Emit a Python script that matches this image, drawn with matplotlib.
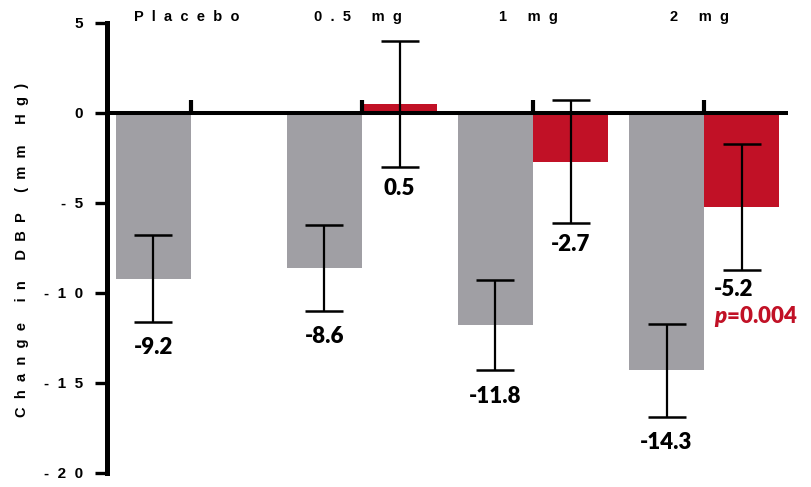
import matplotlib
matplotlib.use("Agg")
import matplotlib.pyplot as plt
import numpy as np

# Data: change in diastolic blood pressure (mm Hg) by dose
groups = ["Placebo", "0.5 mg", "1 mg", "2 mg"]
gray_vals = [-9.2, -8.6, -11.8, -14.3]
gray_err = [2.4, 2.4, 2.5, 2.6]
red_vals = [0.5, -2.7, -5.2]          # no red bar for placebo
red_err = [3.5, 3.4, 3.5]
p_label = "0.004"
y_ticks = [5, 0, -5, -10, -15, -20]

GRAY = "#A09FA4"
RED = "#C11126"

plt.rcParams["mathtext.fontset"] = "custom"
plt.rcParams["mathtext.rm"] = "Lato:weight=heavy"
plt.rcParams["mathtext.it"] = "Lato:style=italic:weight=heavy"
plt.rcParams["mathtext.bf"] = "Lato:weight=heavy"


def spaced(s, gap="  "):
    return gap.join(s)


fig = plt.figure(figsize=(8.12, 4.87), dpi=100)
ax = fig.add_axes([107.5 / 812, 14 / 487, (788 - 107.5) / 812, 450 / 487])

x = np.arange(len(groups))
w = 0.44
xr = x[1:]

ax.bar(x, gray_vals, width=-w, align="edge", color=GRAY, zorder=2)
ax.bar(xr, red_vals, width=w, align="edge", color=RED, zorder=2)

cap = 13.7
ax.errorbar(x - w / 2, gray_vals, yerr=gray_err, fmt="none", ecolor="black",
            elinewidth=1.6, capsize=cap, capthick=1.8, zorder=4)
ax.errorbar(xr + w / 2, red_vals, yerr=red_err, fmt="none", ecolor="black",
            elinewidth=1.6, capsize=cap, capthick=1.8, zorder=4)

# zero line and small upward group ticks
ax.axhline(0, color="black", lw=2.9, zorder=3)
ax.vlines(x, 0, 0.72, color="black", lw=3.0, zorder=3)

lab_kw = dict(fontsize=16, fontweight="heavy", family="Lato", zorder=5)
for xi, v, e in zip(x - w / 2, gray_vals, gray_err):
    ax.annotate(f"{v:g}", (xi, v - e), xytext=(0, -11), textcoords="offset points",
                ha="center", va="top", **lab_kw)
for i, (xi, v, e) in enumerate(zip(xr + w / 2, red_vals, red_err)):
    if i < len(red_vals) - 1:
        ax.annotate(f"{v:g}", (xi, v - e), xytext=(0, -8), textcoords="offset points",
                    ha="center", va="top", **lab_kw)
    else:
        ax.annotate(f"{v:g}", (xi, v - e), xytext=(-20, -7), textcoords="offset points",
                    ha="left", va="top", **lab_kw)
        ax.annotate(r"$p$=" + p_label, (xi, v - e), xytext=(-20, -25),
                    textcoords="offset points", ha="left", va="top",
                    color=RED, **lab_kw)

# group titles above the plot
for xi, g in zip(x, groups):
    ax.text(xi - 0.025, 5.33, spaced(g), ha="center", va="center", fontsize=10.5,
            fontweight="bold", family="Liberation Sans", clip_on=False)

ax.set_xlim(-0.488, 3.49)
ax.set_ylim(-20, 5)
ax.set_xticks([])
ax.set_yticks(y_ticks)
ax.set_yticklabels([spaced(str(t)) for t in y_ticks], fontsize=11,
                   fontweight="bold", family="Liberation Sans")
ax.tick_params(axis="y", length=8.6, width=2.4, pad=9, direction="out")

for s in ["top", "right", "bottom"]:
    ax.spines[s].set_visible(False)
ax.spines["left"].set_linewidth(3.6)
ax.spines["left"].set_bounds(-20, 5)

ylabel = "     ".join(spaced(wd) for wd in "Change in DBP (mm Hg)".split(" "))
fig.text(22 / 812, 1 - 250 / 487, ylabel, rotation=90, ha="center", va="center",
         fontsize=10.5, fontweight="bold", family="Liberation Sans")

fig.savefig("out.png", dpi=100)
